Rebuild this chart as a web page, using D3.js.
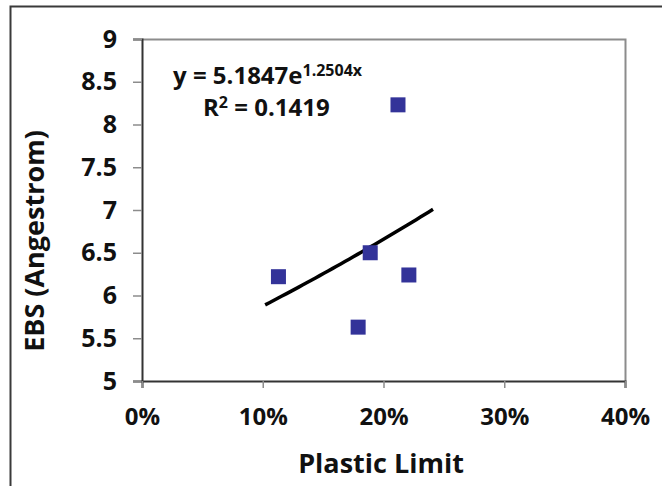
<!DOCTYPE html>
<html>
<head>
<meta charset="utf-8">
<script src="https://cdn.jsdelivr.net/npm/d3@7"></script>
<style>
  body { margin: 0; background: #fff; }
  svg { display: block; font-family: "Open Sans", Lato, sans-serif; font-weight: bold; }
</style>
</head>
<body>
<div id="chart"></div>
<script>
// Data
const plasticLimit = [0.113, 0.179, 0.189, 0.212, 0.221];
const ebs = [6.22, 5.63, 6.50, 8.23, 6.24];
const xTicks = [0, 0.1, 0.2, 0.3, 0.4];
const yTicks = [5, 5.5, 6, 6.5, 7, 7.5, 8, 8.5, 9];
// Exponential trendline y = a * e^(b x), drawn over this x range
const trendCoef = [5.1847, 1.2504];
const trendRange = [0.102, 0.241];

const width = 662;
const height = 486;
const margin = {top: 39, right: 37, bottom: 105, left: 142};
const font = "'Open Sans', Lato, sans-serif";

const x = d3.scaleLinear().domain([0, 0.4]).range([margin.left, width - margin.right]);
const y = d3.scaleLinear().domain([5, 9]).range([height - margin.bottom, margin.top]);

const svg = d3.select("#chart").append("svg")
    .attr("width", width)
    .attr("height", height);

// Outer chart border (open at right and bottom, cropped)
svg.append("path")
    .attr("d", `M10.5,${height} V6.5 H${width}`)
    .attr("fill", "none")
    .attr("stroke", "#3a3a3a")
    .attr("stroke-width", 2);

// Plot area frame, top and right
svg.append("path")
    .attr("d", `M${margin.left},${margin.top + 0.5} H${width - margin.right + 0.5} V${height - margin.bottom}`)
    .attr("fill", "none")
    .attr("stroke", "#8c8c8c")
    .attr("stroke-width", 2);

// Y axis
const yAxis = svg.append("g")
    .attr("transform", `translate(${margin.left},0)`)
    .call(d3.axisLeft(y).tickValues(yTicks).tickSize(9).tickPadding(16).tickFormat(d3.format("")));
yAxis.select(".domain").attr("stroke", "#333").attr("stroke-width", 2);
yAxis.selectAll(".tick line").attr("stroke", "#8c8c8c").attr("stroke-width", 1.5);
yAxis.selectAll(".tick text")
    .attr("font-size", 25).attr("font-family", font).attr("font-weight", "bold")
    .attr("fill", "#111");

// X axis
const xAxis = svg.append("g")
    .attr("transform", `translate(0,${height - margin.bottom})`)
    .call(d3.axisBottom(x).tickValues(xTicks).tickSize(7).tickPadding(20).tickFormat(d3.format(".0%")));
xAxis.select(".domain").attr("stroke", "#333").attr("stroke-width", 2);
xAxis.selectAll(".tick line").attr("stroke", "#8c8c8c").attr("stroke-width", 1.5);
xAxis.selectAll(".tick text")
    .attr("font-size", 24).attr("font-family", font).attr("font-weight", "bold")
    .attr("fill", "#111");

// Axis titles
svg.append("text")
    .attr("x", 381).attr("y", 473)
    .attr("text-anchor", "middle")
    .attr("font-size", 27)
    .attr("fill", "#111")
    .text("Plastic Limit");

svg.append("text")
    .attr("transform", "translate(44,241) rotate(-90)")
    .attr("text-anchor", "middle")
    .attr("font-size", 27)
    .attr("fill", "#111")
    .text("EBS (Angestrom)");

// Trendline
const trendX = d3.range(0, 41).map(i => trendRange[0] + (trendRange[1] - trendRange[0]) * i / 40);
const line = d3.line()
    .x(d => x(d))
    .y(d => y(trendCoef[0] * Math.exp(trendCoef[1] * d)));
svg.append("path")
    .datum(trendX)
    .attr("d", line)
    .attr("fill", "none")
    .attr("stroke", "#000")
    .attr("stroke-width", 3.5);

// Points
const size = 15;
svg.append("g")
    .selectAll("rect")
    .data(plasticLimit.map((d, i) => [d, ebs[i]]))
    .join("rect")
    .attr("x", d => x(d[0]) - size / 2)
    .attr("y", d => y(d[1]) - size / 2)
    .attr("width", size)
    .attr("height", size)
    .attr("fill", "#333399");

// Equation label
const eq = svg.append("text")
    .attr("x", 173).attr("y", 84)
    .attr("font-size", 24)
    .attr("fill", "#111");
eq.append("tspan").text("y = 5.1847e");
eq.append("tspan").attr("dy", -8).attr("font-size", 16).text("1.2504x");

const r2 = svg.append("text")
    .attr("x", 203).attr("y", 116)
    .attr("font-size", 24)
    .attr("fill", "#111");
r2.append("tspan").text("R");
r2.append("tspan").attr("dy", -8).attr("font-size", 16).text("2");
r2.append("tspan").attr("dy", 8).text(" = 0.1419");
</script>
</body>
</html>
